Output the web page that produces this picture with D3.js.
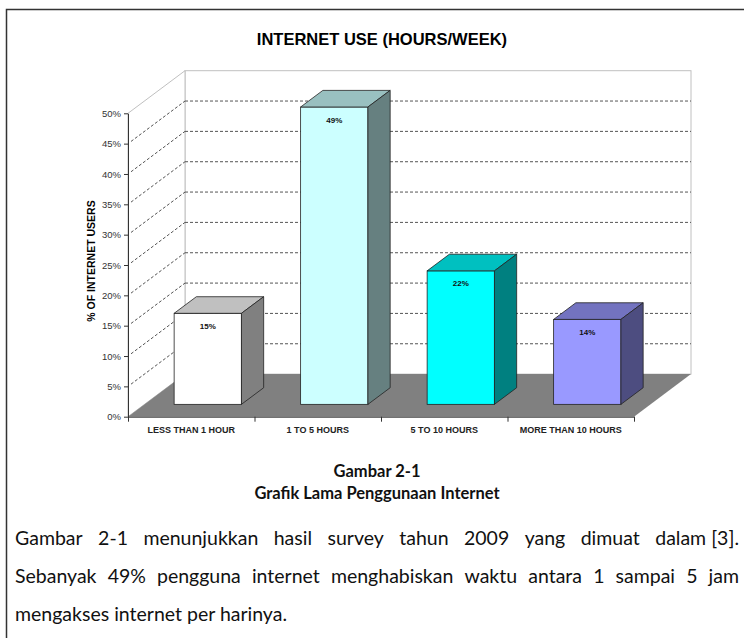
<!DOCTYPE html>
<html>
<head>
<meta charset="utf-8">
<script src="https://cdn.jsdelivr.net/npm/d3@7"></script>
<style>
  body { margin: 0; background: #fff; }
  svg { display: block; }
</style>
</head>
<body>
<script>
const categories = ['LESS THAN 1 HOUR', '1 TO 5 HOURS', '5 TO 10 HOURS', 'MORE THAN 10 HOURS'];
const values = [15, 49, 22, 14];
const yTicks = [0, 5, 10, 15, 20, 25, 30, 35, 40, 45, 50];
const frontColors = ['#ffffff', '#ccffff', '#00ffff', '#9999ff'];
const topColors = ['#c0c0c0', '#99c0c0', '#00c0c0', '#7373c0'];
const sideColors = ['#808080', '#668080', '#008080', '#4d4d80'];
const captionLines = ['Gambar 2-1', 'Grafik Lama Penggunaan Internet'];
const paragraphLines = [
  ['Gambar', '2-1', 'menunjukkan', 'hasil', 'survey', 'tahun', '2009', 'yang', 'dimuat', 'dalam [3].'],
  ['Sebanyak', '49%', 'pengguna', 'internet', 'menghabiskan', 'waktu', 'antara', '1', 'sampai', '5', 'jam'],
  ['mengakses internet per harinya.']
];

const w = 744;
const h = 638;
const arial = '"Liberation Sans", Arial, sans-serif';
const body = 'Lato, "Open Sans", sans-serif';

const svg = d3.select('body').append('svg').attr('width', w).attr('height', h);

// frame: top and left edges only, the right one is off the page
svg.append('path')
  .attr('d', `M6.5,${h + 5}V9.5H${w + 5}`)
  .attr('fill', 'none').attr('stroke', '#333').attr('stroke-width', 1.5);

svg.append('text')
  .attr('x', 382).attr('y', 45)
  .attr('text-anchor', 'middle')
  .style('font-family', arial).style('font-size', '16.5px').style('font-weight', 'bold')
  .text('INTERNET USE (HOURS/WEEK)');

// scales for the front plane, depth vector for the 3d look
const x = d3.scaleBand().domain(categories).range([128, 634]);
const y = d3.scaleLinear().domain([0, 50]).range([416.7, 113.3]);
const dx = 57, dy = -42.6;
const barFront = 0.29, barBack = 0.68;
const barW = x.bandwidth() * 0.532;
const [x0, x1] = x.range();

const plot = svg.append('g');

// back wall
plot.append('rect')
  .attr('x', x0 + dx).attr('y', y(50) + dy)
  .attr('width', x1 - x0).attr('height', y(0) - y(50))
  .attr('fill', '#fff').attr('stroke', '#c0c0c0');

// side wall
plot.append('polygon')
  .attr('points', [[x0, y(0)], [x0, y(50)], [x0 + dx, y(50) + dy], [x0 + dx, y(0) + dy]].join(' '))
  .attr('fill', '#fff').attr('stroke', '#c0c0c0');

const grid = yTicks.filter((t) => t > 0 && t < 50);

plot.selectAll('.grid')
  .data(grid)
  .enter()
  .append('line')
  .attr('class', 'grid')
  .attr('x1', x0 + dx).attr('x2', x1 + dx)
  .attr('y1', (d) => y(d) + dy).attr('y2', (d) => y(d) + dy)
  .attr('stroke', '#555').attr('stroke-dasharray', '3,2');

plot.selectAll('.diag')
  .data(grid)
  .enter()
  .append('line')
  .attr('class', 'diag')
  .attr('x1', x0 + 3).attr('y1', (d) => y(d) - 2.2)
  .attr('x2', x0 + dx).attr('y2', (d) => y(d) + dy)
  .attr('stroke', '#555').attr('stroke-dasharray', '3,2');

// floor
plot.append('polygon')
  .attr('points', [[x0, y(0)], [x1, y(0)], [x1 + dx, y(0) + dy], [x0 + dx, y(0) + dy]].join(' '))
  .attr('fill', '#808080');

// bars
const bdx = (barBack - barFront) * dx;
const bdy = (barBack - barFront) * dy;

const bars = plot.selectAll('.bar')
  .data(categories.map((c, i) => ({ c, v: values[i], i })))
  .enter()
  .append('g')
  .attr('class', 'bar');

const fx = (d) => x(d.c) + (x.bandwidth() - barW) / 2 + barFront * dx;
const fTop = (d) => y(d.v) + barFront * dy;
const fBot = () => y(0) + barFront * dy;

bars.append('rect')
  .attr('x', fx).attr('y', fTop)
  .attr('width', barW).attr('height', (d) => fBot() - fTop(d))
  .attr('fill', (d) => frontColors[d.i]).attr('stroke', '#222').attr('stroke-width', 0.8);

bars.append('polygon')
  .attr('points', (d) => [
    [fx(d), fTop(d)], [fx(d) + barW, fTop(d)],
    [fx(d) + barW + bdx, fTop(d) + bdy], [fx(d) + bdx, fTop(d) + bdy]
  ].join(' '))
  .attr('fill', (d) => topColors[d.i]).attr('stroke', '#222').attr('stroke-width', 0.8);

bars.append('polygon')
  .attr('points', (d) => [
    [fx(d) + barW, fTop(d)], [fx(d) + barW + bdx, fTop(d) + bdy],
    [fx(d) + barW + bdx, fBot() + bdy], [fx(d) + barW, fBot()]
  ].join(' '))
  .attr('fill', (d) => sideColors[d.i]).attr('stroke', '#222').attr('stroke-width', 0.8);

bars.append('text')
  .attr('x', (d) => fx(d) + barW / 2)
  .attr('y', (d) => fTop(d) + 15.5)
  .attr('text-anchor', 'middle')
  .style('font-family', arial).style('font-size', '8px').style('font-weight', 'bold')
  .attr('fill', '#111')
  .text((d) => d.v + '%');

// axes
const yAxis = svg.append('g')
  .attr('transform', `translate(${x0},0)`)
  .call(d3.axisLeft(y).tickValues(yTicks).tickSize(4).tickSizeOuter(0).tickFormat((d) => d + '%'));
yAxis.selectAll('text').style('font-family', arial).style('font-size', '9.5px').attr('fill', '#333');
yAxis.selectAll('line, path').attr('stroke', '#333');

const xEdge = d3.scaleLinear().domain([0, categories.length]).range([x0, x1]);
const xTicks = svg.append('g')
  .attr('transform', `translate(0,${y(0)})`)
  .call(d3.axisBottom(xEdge).tickValues(d3.range(categories.length + 1)).tickSize(5).tickSizeOuter(0).tickFormat(''));
xTicks.selectAll('line, path').attr('stroke', '#333');

const xAxis = svg.append('g')
  .attr('transform', `translate(0,${y(0)})`)
  .call(d3.axisBottom(x).tickSize(0).tickPadding(10));
xAxis.select('.domain').remove();
xAxis.selectAll('text')
  .style('font-family', arial).style('font-size', '9px').style('font-weight', 'bold').attr('fill', '#222');

svg.append('text')
  .attr('transform', 'translate(95,261) rotate(-90)')
  .attr('text-anchor', 'middle')
  .style('font-family', arial).style('font-size', '10.5px').style('font-weight', 'bold')
  .text('% OF INTERNET USERS');

// caption under the figure
svg.selectAll('.caption')
  .data(captionLines)
  .enter()
  .append('text')
  .attr('class', 'caption')
  .attr('x', 377)
  .attr('y', (d, i) => 477 + i * 22)
  .attr('text-anchor', 'middle')
  .style('font-family', body).style('font-size', '16.5px').style('font-weight', 'bold')
  .attr('fill', '#111')
  .text((d) => d);

// justified paragraph
const left = 15, right = 739;
paragraphLines.forEach((words, li) => {
  const yy = 545 + li * 38;
  const nodes = words.map((word) =>
    svg.append('text')
      .attr('y', yy)
      .style('font-family', body).style('font-size', '19.5px')
      .attr('fill', '#111')
      .text(word)
  );
  const widths = nodes.map((n) => n.node().getComputedTextLength());
  const justify = li < paragraphLines.length - 1 && words.length > 1;
  const gap = justify ? (right - left - d3.sum(widths)) / (words.length - 1) : 5;
  let cx = left;
  nodes.forEach((n, k) => {
    n.attr('x', cx);
    cx += widths[k] + gap;
  });
});
</script>
</body>
</html>
